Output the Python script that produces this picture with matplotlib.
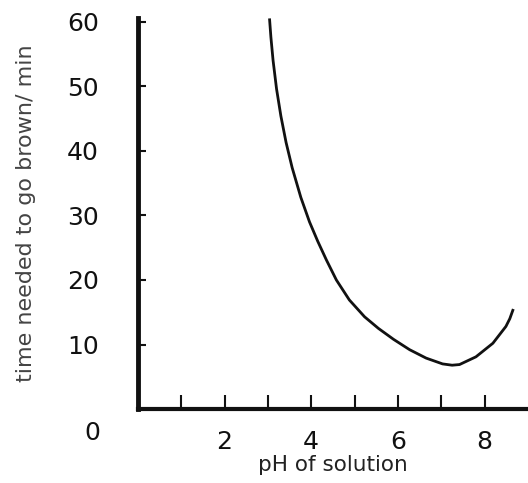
import matplotlib.pyplot as plt

# pH values and time to go brown
ph = [3.04, 3.07, 3.12, 3.20, 3.30, 3.42, 3.56, 3.76, 3.96, 4.15, 4.35, 4.58,
      4.88, 5.23, 5.55, 5.90, 6.27, 6.65, 7.03, 7.25, 7.42, 7.80, 8.19, 8.49,
      8.58, 8.65]
time_min = [60.3, 57.6, 54.0, 49.6, 45.4, 41.3, 37.4, 32.8, 29.0, 26.0, 23.1, 20.0,
            16.9, 14.3, 12.5, 10.8, 9.2, 7.9, 7.0, 6.8, 6.9, 8.1, 10.2, 12.8,
            14.0, 15.3]

x_ticks = [2, 4, 6, 8]
x_minor = [1, 3, 5, 7]
y_ticks = [10, 20, 30, 40, 50, 60]

plt.rcParams['font.family'] = ['DejaVu Sans']

fig = plt.figure(figsize=(5.28, 4.83), dpi=100)
ax = fig.add_axes([0.261, 0.153, 0.739, 0.81])

ax.plot(ph, time_min, color='#111111', linewidth=2.0, solid_joinstyle='round')

ax.set_xlim(0, 9.0)
ax.set_ylim(0, 60.6)

# only left and bottom axes
ax.spines['top'].set_visible(False)
ax.spines['right'].set_visible(False)
ax.spines['left'].set_linewidth(3.5)
ax.spines['bottom'].set_linewidth(3.0)
ax.spines['left'].set_color('#111111')
ax.spines['bottom'].set_color('#111111')

ax.set_xticks(x_ticks)
ax.set_xticks(x_minor, minor=True)
ax.set_yticks(y_ticks)
ax.tick_params(axis='x', which='both', direction='in', length=10, width=1.5,
               pad=15, labelsize=18, colors='#111111')
ax.tick_params(axis='y', direction='in', length=6, width=1.5,
               pad=28, labelsize=18, colors='#111111')

# the zero label sits below the corner
ax.text(-0.095, -0.06, '0', transform=ax.transAxes, ha='right', va='center',
        fontsize=18, color='#111111')

ax.set_xlabel('pH of solution', fontsize=15.5, color='#222222', labelpad=1)
ax.set_ylabel('time needed to go brown/ min', fontsize=16, color='#444444', labelpad=22)

plt.savefig('out.png', dpi=100)
